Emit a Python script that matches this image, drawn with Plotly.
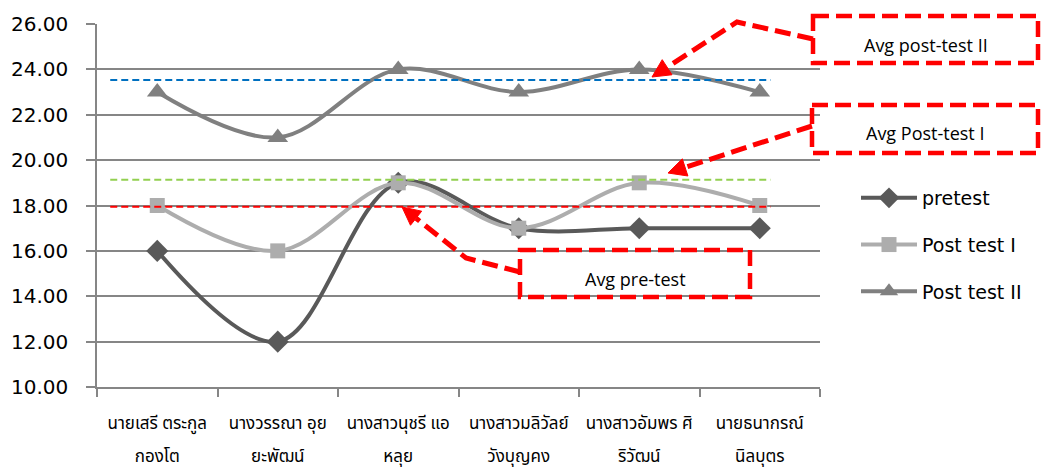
import plotly.graph_objects as go
import math

names_line1 = ["นายเสรี ตระกูล", "นางวรรณา อุย", "นางสาวนุชรี แอ", "นางสาวมลิวัลย์", "นางสาวอัมพร ศิ", "นายธนากรณ์"]
names_line2 = ["กองโต", "ยะพัฒน์", "หลุย", "วังบุญคง", "ริวัฒน์", "นิลบุตร"]
pretest = [16, 12, 19, 17, 17, 17]
post1 = [18, 16, 19, 17, 19, 18]
post2 = [23, 21, 24, 23, 24, 23]
avg_labels = ["Avg pre-test", "Avg Post-test I", "Avg post-test II"]
avg_values = [17.95, 19.13, 23.53]
avg_colors = ["#FF0000", "#92D050", "#0070C0"]
y_ticks = [10, 12, 14, 16, 18, 20, 22, 24, 26]

# page offset (body margin) and plot area geometry in screen pixels
OFF = 8
W, H = 1049 - OFF, 470 - OFF
L, R, T, B = 97 - OFF, 820 - OFF, 24 - OFF, 387 - OFF


def px(x):
    return (x - OFF - L) / (R - L)


def py(y):
    return (B - (y - OFF)) / (B - T)


fig = go.Figure()
series = [
    ("pretest", pretest, "#595959", "diamond", 17),
    ("Post test I", post1, "#ADADAD", "square", 15),
    ("Post test II", post2, "#808080", "triangle-up", 18),
]
for i, (nm, vals, col, sym, sz) in enumerate(series):
    fig.add_trace(go.Scatter(
        x=names_line1, y=vals, name=nm, mode="lines+markers",
        line=dict(color=col, width=4, shape="spline", smoothing=1.0),
        marker=dict(symbol=sym, size=sz, color=col),
        legendgroup=str(i),
    ))

# invisible trace to carry the second line of the category labels
fig.add_trace(go.Scatter(x=names_line1, y=pretest, xaxis="x2", mode="markers",
                         marker=dict(opacity=0), showlegend=False, hoverinfo="skip"))

shapes = []
for v, c in zip(avg_values, avg_colors):
    shapes.append(dict(type="line", xref="x", yref="y", x0=-0.39, x1=5.09, y0=v, y1=v,
                       line=dict(color=c, width=2, dash="7px,4px"), layer="above"))

RED = "#FF0000"
DASH = "16px,7px"
boxes = [
    ((520, 250, 750, 297), avg_labels[0], 279),
    ((812, 105, 1038, 153), avg_labels[1], 133),
    ((813, 16, 1038, 63), avg_labels[2], 45),
]
annotations = []
for (x0, y0, x1, y1), txt, ty in boxes:
    shapes.append(dict(type="rect", xref="paper", yref="paper",
                       x0=px(x0), x1=px(x1), y0=py(y0), y1=py(y1),
                       line=dict(color=RED, width=4.5, dash=DASH)))
    annotations.append(dict(xref="paper", yref="paper", x=px((x0 + x1) / 2), y=py(ty),
                            text=txt, showarrow=False, xanchor="center", yanchor="middle",
                            font=dict(family="Open Sans", size=18, color="#000000")))

arrows = [
    [(520, 272), (466, 258), (402, 207)],
    [(812, 126), (668, 173)],
    [(813, 39), (737, 22), (652, 77)],
]
for pts in arrows:
    (xa, ya), (xt, yt) = pts[-2], pts[-1]
    dx, dy = xt - xa, yt - ya
    d = math.hypot(dx, dy)
    ux, uy = dx / d, dy / d
    hl, hw = 18, 9
    bx, by = xt - ux * hl, yt - uy * hl
    body = pts[:-1] + [(bx, by)]
    path = "M " + " L ".join(f"{px(x):.5f},{py(y):.5f}" for x, y in body)
    shapes.append(dict(type="path", xref="paper", yref="paper", path=path,
                       line=dict(color=RED, width=5, dash=DASH)))
    p1 = (bx - uy * hw, by + ux * hw)
    p2 = (bx + uy * hw, by - ux * hw)
    tri = f"M {px(xt):.5f},{py(yt):.5f} L {px(p1[0]):.5f},{py(p1[1]):.5f} L {px(p2[0]):.5f},{py(p2[1]):.5f} Z"
    shapes.append(dict(type="path", xref="paper", yref="paper", path=tri,
                       fillcolor=RED, line=dict(color=RED, width=1)))

THAI = "Noto Sans Thai, Tahoma, DejaVu Sans, sans-serif"
fig.update_layout(
    width=W, height=H,
    margin=dict(l=L, r=W - R, t=T, b=H - B, pad=0, autoexpand=False),
    paper_bgcolor="white", plot_bgcolor="white",
    font=dict(family="DejaVu Sans", color="#000000"),
    showlegend=True,
    legend=dict(x=px(856), y=py(179), xanchor="left", yanchor="top",
                font=dict(family="DejaVu Sans", size=19, color="#000000"),
                itemwidth=56, tracegroupgap=19, traceorder="grouped",
                bgcolor="rgba(0,0,0,0)"),
    xaxis=dict(type="category", categoryarray=names_line1, categoryorder="array",
               range=[-0.5, 5.5], tickson="boundaries", ticks="outside", ticklen=8,
               tickcolor="#868686", tickwidth=1.5, automargin=False,
               showgrid=False, showline=True, linecolor="#868686", linewidth=1.5,
               tickfont=dict(family=THAI, size=17, color="#000000"),
               ticklabelstandoff=20, zeroline=False),
    xaxis2=dict(type="category", categoryarray=names_line1, categoryorder="array",
                overlaying="x", anchor="y", side="bottom", range=[-0.5, 5.5],
                tickmode="array", tickvals=names_line1, ticktext=names_line2,
                ticks="", showgrid=False, showline=False, zeroline=False, automargin=False,
                tickfont=dict(family=THAI, size=17, color="#000000"),
                ticklabelstandoff=57),
    yaxis=dict(range=[10, 26], tickvals=y_ticks, ticktext=[f"{v:.2f}" for v in y_ticks],
               showgrid=True, gridcolor="#868686", gridwidth=1.5, automargin=False,
               ticks="outside", ticklen=9, tickcolor="#868686", tickwidth=1.5,
               showline=True, linecolor="#868686", linewidth=1.5, zeroline=False,
               tickfont=dict(family="DejaVu Sans", size=20, color="#000000"),
               ticklabelstandoff=14),
    shapes=shapes, annotations=annotations,
)

fig.write_html("out.html")
